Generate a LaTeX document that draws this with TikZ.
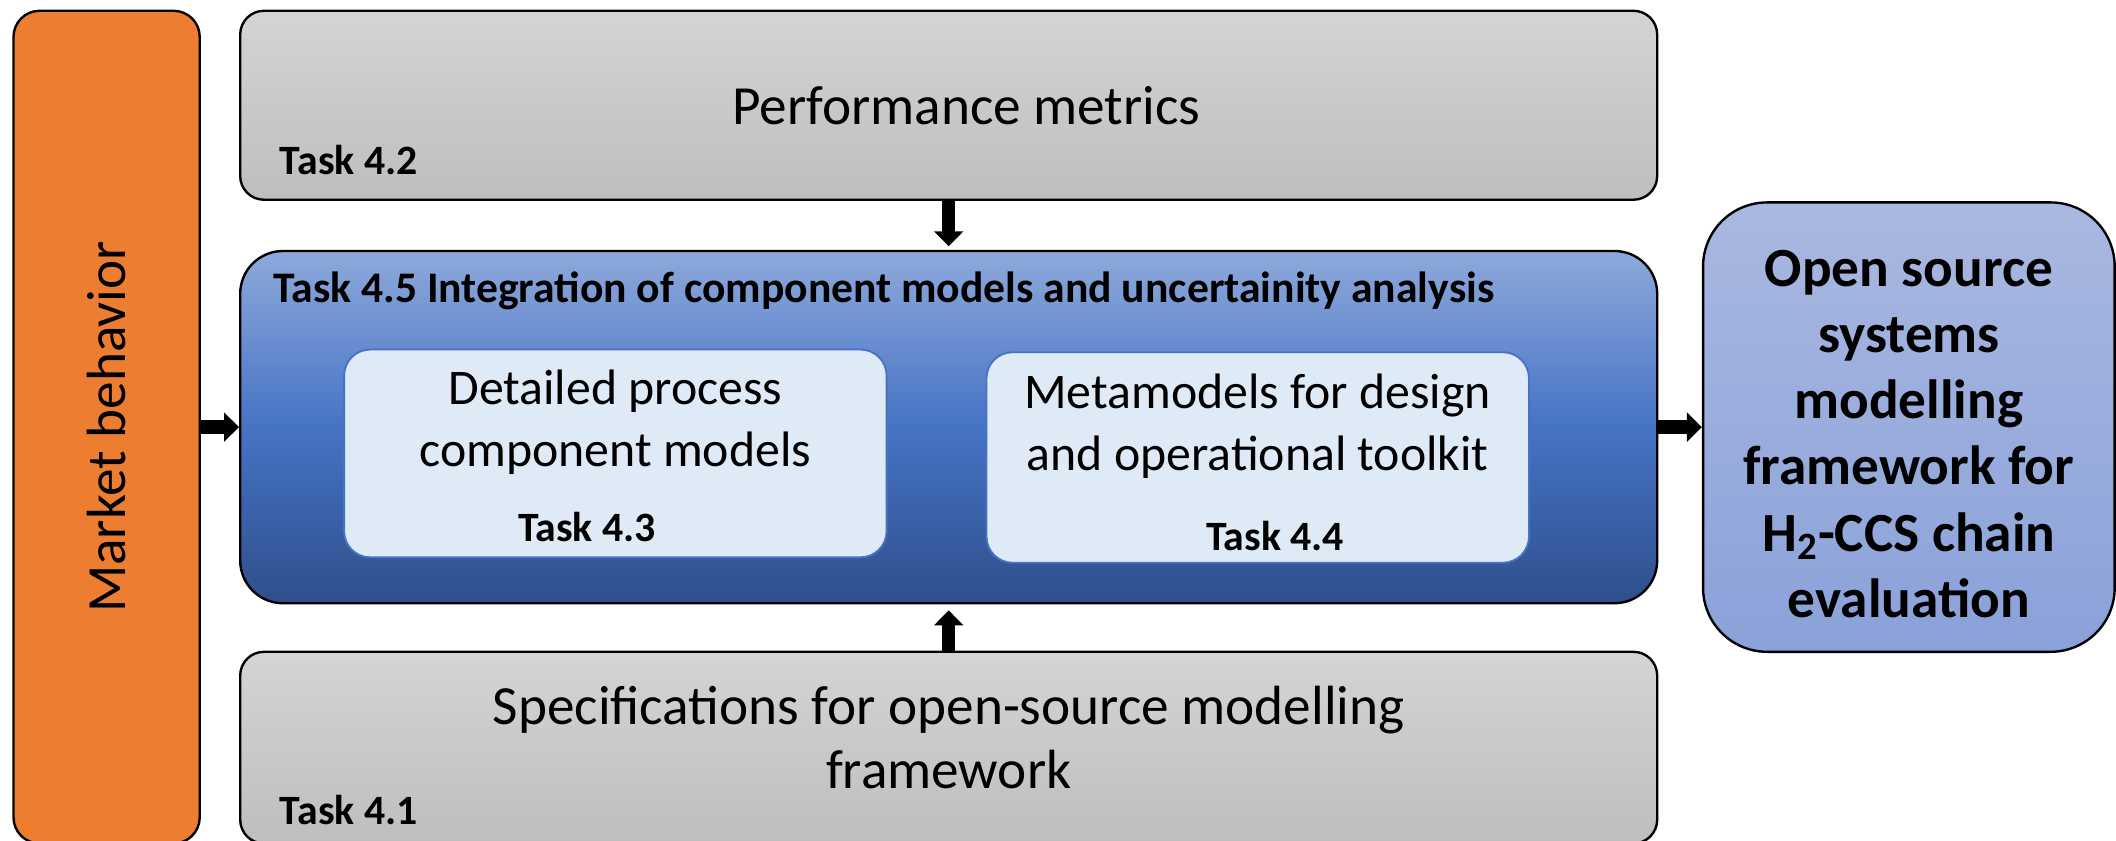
\documentclass[tikz,border=0pt]{standalone}
\usepackage{fontspec}
\setmainfont{Carlito}
\usetikzlibrary{arrows.meta,positioning}
\definecolor{mktorange}{HTML}{ED7D31}
\definecolor{grayhi}{HTML}{D4D4D4}
\definecolor{graylo}{HTML}{BEBEBE}
\definecolor{bluehi}{HTML}{8EA9DB}
\definecolor{bluemid}{HTML}{4673C4}
\definecolor{bluelo}{HTML}{2E4F8C}
\definecolor{paleblue}{HTML}{DEEAF6}
\definecolor{outhi}{HTML}{A9B8E0}
\definecolor{outlo}{HTML}{8AA1D9}
\tikzset{
        box/.style={draw=black, line width=1pt, inner sep=0pt, align=center},
        market/.style={box, fill=mktorange, rounded corners=11pt, rotate=90, minimum width=123.4mm, minimum height=27.6mm, font=\fontsize{23.3}{28}\selectfont},
        graybox/.style={box, top color=grayhi, bottom color=graylo, rounded corners=10pt, minimum width=210mm},
        bluebox/.style={box, top color=bluehi, bottom color=bluelo, middle color=bluemid, rounded corners=18pt, minimum width=210mm, minimum height=52.2mm},
        inbox/.style={draw=bluemid, line width=0.8pt, fill=paleblue, rounded corners=11pt, minimum width=80.4mm},
        outbox/.style={box, top color=outhi, bottom color=outlo, rounded corners=27pt, minimum width=61mm, minimum height=66.6mm},
        outtext/.style={align=center, inner sep=0pt, font=\bfseries\fontsize{23.3}{27.9}\selectfont},
        bigtext/.style={align=center, inner sep=0pt, font=\fontsize{23.3}{27.3}\selectfont},
        intext/.style={align=center, inner sep=0pt, font=\fontsize{21}{26.2}\selectfont},
        tasklabel/.style={inner sep=0pt, font=\bfseries\fontsize{17.6}{20}\selectfont},
        titlelabel/.style={inner sep=0pt, font=\bfseries\fontsize{18.4}{21}\selectfont},
        arr/.style={-{Triangle[width=12pt,length=6.3pt]}, line width=5.6pt}
          }
\begin{document}
\begin{tikzpicture}[x=1mm, y=1mm]
        \useasboundingbox (0,0) rectangle (313.6,124.6);
        \clip (0,0) rectangle (313.6,124.6);
        \node[market] (mkt) at (15.8,61.3) {Market behavior};
        \node[graybox, minimum height=28mm] (perf) at (140.6,109) {};
        \node[bluebox] (integ) at (140.6,61.3) {};
        \node[graybox, minimum height=28.4mm] (spec) at (140.6,13.8) {};
        \node[outbox] (final) at (282.9,61.3) {};
        \node[inbox, minimum height=30.8mm] (boxA) at (91.2,57.4) {};
        \node[inbox, minimum height=31.2mm] (boxB) at (186.4,56.8) {};
        \node[bigtext] (txtP) at ([xshift=2.6mm]perf.center) {Performance metrics};
        \node[tasklabel, anchor=base west] (t42) at ([shift={(6,3.9)}]perf.south west) {Task 4.2};
        \node[titlelabel, anchor=base west] (t45) at ([shift={(5,-7.8)}]integ.north west) {Task 4.5 Integration of component models and uncertainity analysis};
        \node[intext] (txtA) at ([yshift=4.6mm]boxA.center) {Detailed process\\component models};
        \node[tasklabel, anchor=base] (t43) at ([shift={(-4.2,-13)}]boxA.center) {Task 4.3};
        \node[intext] (txtB) at ([yshift=4.6mm]boxB.center) {Metamodels for design\\and operational toolkit};
        \node[tasklabel, anchor=base] (t44) at ([shift={(2.6,-13.8)}]boxB.center) {Task 4.4};
        \node[bigtext] (txtS) at ([yshift=1.5mm]spec.center) {Specifications for open-source modelling\\framework};
        \node[tasklabel, anchor=base west] (t41) at ([shift={(6,3)}]spec.south west) {Task 4.1};
        \node[outtext] (txtF) at ([yshift=-1mm]final.center) {Open source\\systems\\modelling\\framework for\\H\textsubscript{2}-CCS chain\\evaluation};
        \draw[arr, shorten >=1.5pt] (perf) -- (integ);
        \draw[arr, shorten >=2.5pt] (spec) -- (integ);
        \draw[arr] (mkt) -- (integ);
        \draw[arr] (integ) -- (final);
      \end{tikzpicture}
\end{document}
